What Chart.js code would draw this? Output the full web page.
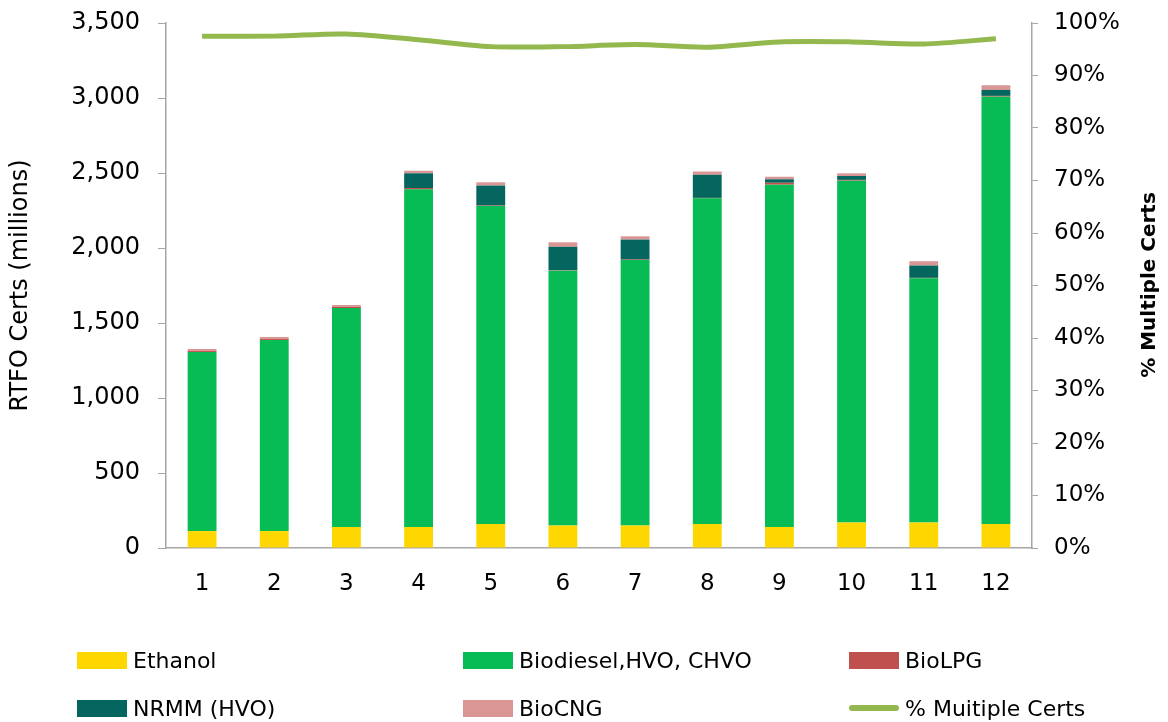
<!DOCTYPE html>
<html>
<head>
<meta charset="utf-8">
<title>RTFO Certs</title>
<script src="https://cdn.jsdelivr.net/npm/chart.js@4.4.0/dist/chart.umd.min.js"></script>
<style>
  html, body { margin: 0; padding: 0; background: #fff; }
  #wrap { position: relative; width: 1168px; height: 722px; }
  #legend { position: absolute; left: 0; top: 0; width: 1168px; height: 722px; pointer-events: none;
            font-family: "DejaVu Sans", sans-serif; font-size: 22px; color: #000; }
  .item { position: absolute; display: flex; align-items: center; height: 26px; white-space: nowrap; }
  .swatch { width: 50px; height: 17px; margin-right: 6px; }
  .swatch.line { height: 6px; border-radius: 3px; }
  /* right axis title reads bottom-to-top like the left one */
  #rightTitle { position: absolute; left: 1148px; top: 285px; transform: translate(-50%, -50%) rotate(-90deg);
                font-family: "DejaVu Sans", sans-serif; font-size: 20px; font-weight: bold; color: #000;
                white-space: nowrap; }
</style>
</head>
<body>
<div id="wrap">
  <canvas id="certChart" width="1168" height="722"></canvas>
  <div id="legend"></div>
  <div id="rightTitle">% Multiple Certs</div>
</div>
<script>
const periods = ['1', '2', '3', '4', '5', '6', '7', '8', '9', '10', '11', '12'];

// RTFO certs, millions
const ethanol   = [113, 113, 140, 140, 160, 150, 150, 160, 140, 170, 170, 160];
const biodiesel = [1194, 1274, 1460, 2251, 2120, 1699, 1770, 2171, 2282, 2279, 1628, 2849];
const bioLPG    = [8, 8, 8, 9, 3, 3, 3, 3, 13, 5, 3, 5];
const nrmmHVO   = [0, 0, 0, 98, 133, 156, 133, 154, 23, 26, 82, 40];
const bioCNG    = [12, 12, 12, 17, 22, 30, 22, 22, 17, 18, 29, 31];

// share of multiple certs, %
const multipleCerts = [97.5, 97.5, 97.9, 96.8, 95.5, 95.5, 95.9, 95.4, 96.4, 96.4, 96.0, 97.0];

const FONT = '"DejaVu Sans", sans-serif';
const AXIS = '#a6a6a6';

function bar(label, data, color) {
  return {
    type: 'bar', label, data, backgroundColor: color, yAxisID: 'y', order: 1,
    barPercentage: 0.4, categoryPercentage: 1.0, borderWidth: 0
  };
}

// keep the plot edges fixed; tick labels may hang over the padding
function fixVertical(width) {
  return s => { s.width = width; s.paddingTop = 0; s.paddingBottom = 0; };
}

const ctx = document.getElementById('certChart').getContext('2d');
const chart = new Chart(ctx, {
  data: {
    labels: periods,
    datasets: [
      bar('Ethanol', ethanol, '#ffd700'),
      bar('Biodiesel,HVO, CHVO', biodiesel, '#07bb55'),
      bar('BioLPG', bioLPG, '#c0504d'),
      bar('NRMM (HVO)', nrmmHVO, '#04665f'),
      bar('BioCNG', bioCNG, '#d99694'),
      {
        type: 'line', label: '% Muitiple Certs', data: multipleCerts, yAxisID: 'y1', order: 0,
        borderColor: '#92b84e', backgroundColor: '#92b84e', borderWidth: 5,
        pointRadius: 0, tension: 0.3, fill: false
      }
    ]
  },
  options: {
    responsive: false,
    animation: false,
    layout: { padding: { left: 0, right: 0, top: 23, bottom: 114 } },
    plugins: { legend: { display: false }, tooltip: { enabled: false } },
    scales: {
      x: {
        stacked: true,
        grid: { display: false, drawTicks: false },
        border: { display: true, color: AXIS, width: 1.5 },
        ticks: { color: '#000', font: { family: FONT, size: 23 }, padding: 22 },
        afterFit: s => { s.height = 60; s.paddingLeft = 0; s.paddingRight = 0; }
      },
      y: {
        stacked: true, position: 'left', min: 0, max: 3500,
        grid: { drawOnChartArea: false, drawTicks: true, tickLength: 8, color: AXIS, tickColor: AXIS },
        border: { display: true, color: AXIS, width: 1.5 },
        ticks: { stepSize: 500, color: '#000', font: { family: FONT, size: 24 }, padding: 18,
                 callback: v => v.toLocaleString('en-US') },
        title: { display: true, text: 'RTFO Certs (millions)', color: '#000',
                 font: { family: FONT, size: 24 }, padding: { top: 6, bottom: 0 } },
        afterFit: fixVertical(166)
      },
      y1: {
        stacked: false, position: 'right', min: 0, max: 100,
        grid: { drawOnChartArea: false, drawTicks: true, tickLength: 6, color: AXIS, tickColor: AXIS },
        border: { display: true, color: AXIS, width: 1.5 },
        ticks: { stepSize: 10, color: '#000', font: { family: FONT, size: 23 }, padding: 16,
                 callback: v => v + '%' },
        afterFit: fixVertical(136)
      }
    }
  }
});

// legend in three fixed columns, two rows, under the plot
const legendCols = [77, 463, 849];
const legendRows = [660, 708];
const legendBox = document.getElementById('legend');
chart.data.datasets.forEach((ds, i) => {
  const item = document.createElement('div');
  item.className = 'item';
  item.style.left = legendCols[i % 3] + 'px';
  item.style.top = (legendRows[Math.floor(i / 3)] - 13) + 'px';
  const sw = document.createElement('span');
  sw.className = ds.type === 'line' ? 'swatch line' : 'swatch';
  sw.style.background = ds.type === 'line' ? ds.borderColor : ds.backgroundColor;
  const txt = document.createElement('span');
  txt.textContent = ds.label;
  item.appendChild(sw);
  item.appendChild(txt);
  legendBox.appendChild(item);
});
</script>
</body>
</html>
